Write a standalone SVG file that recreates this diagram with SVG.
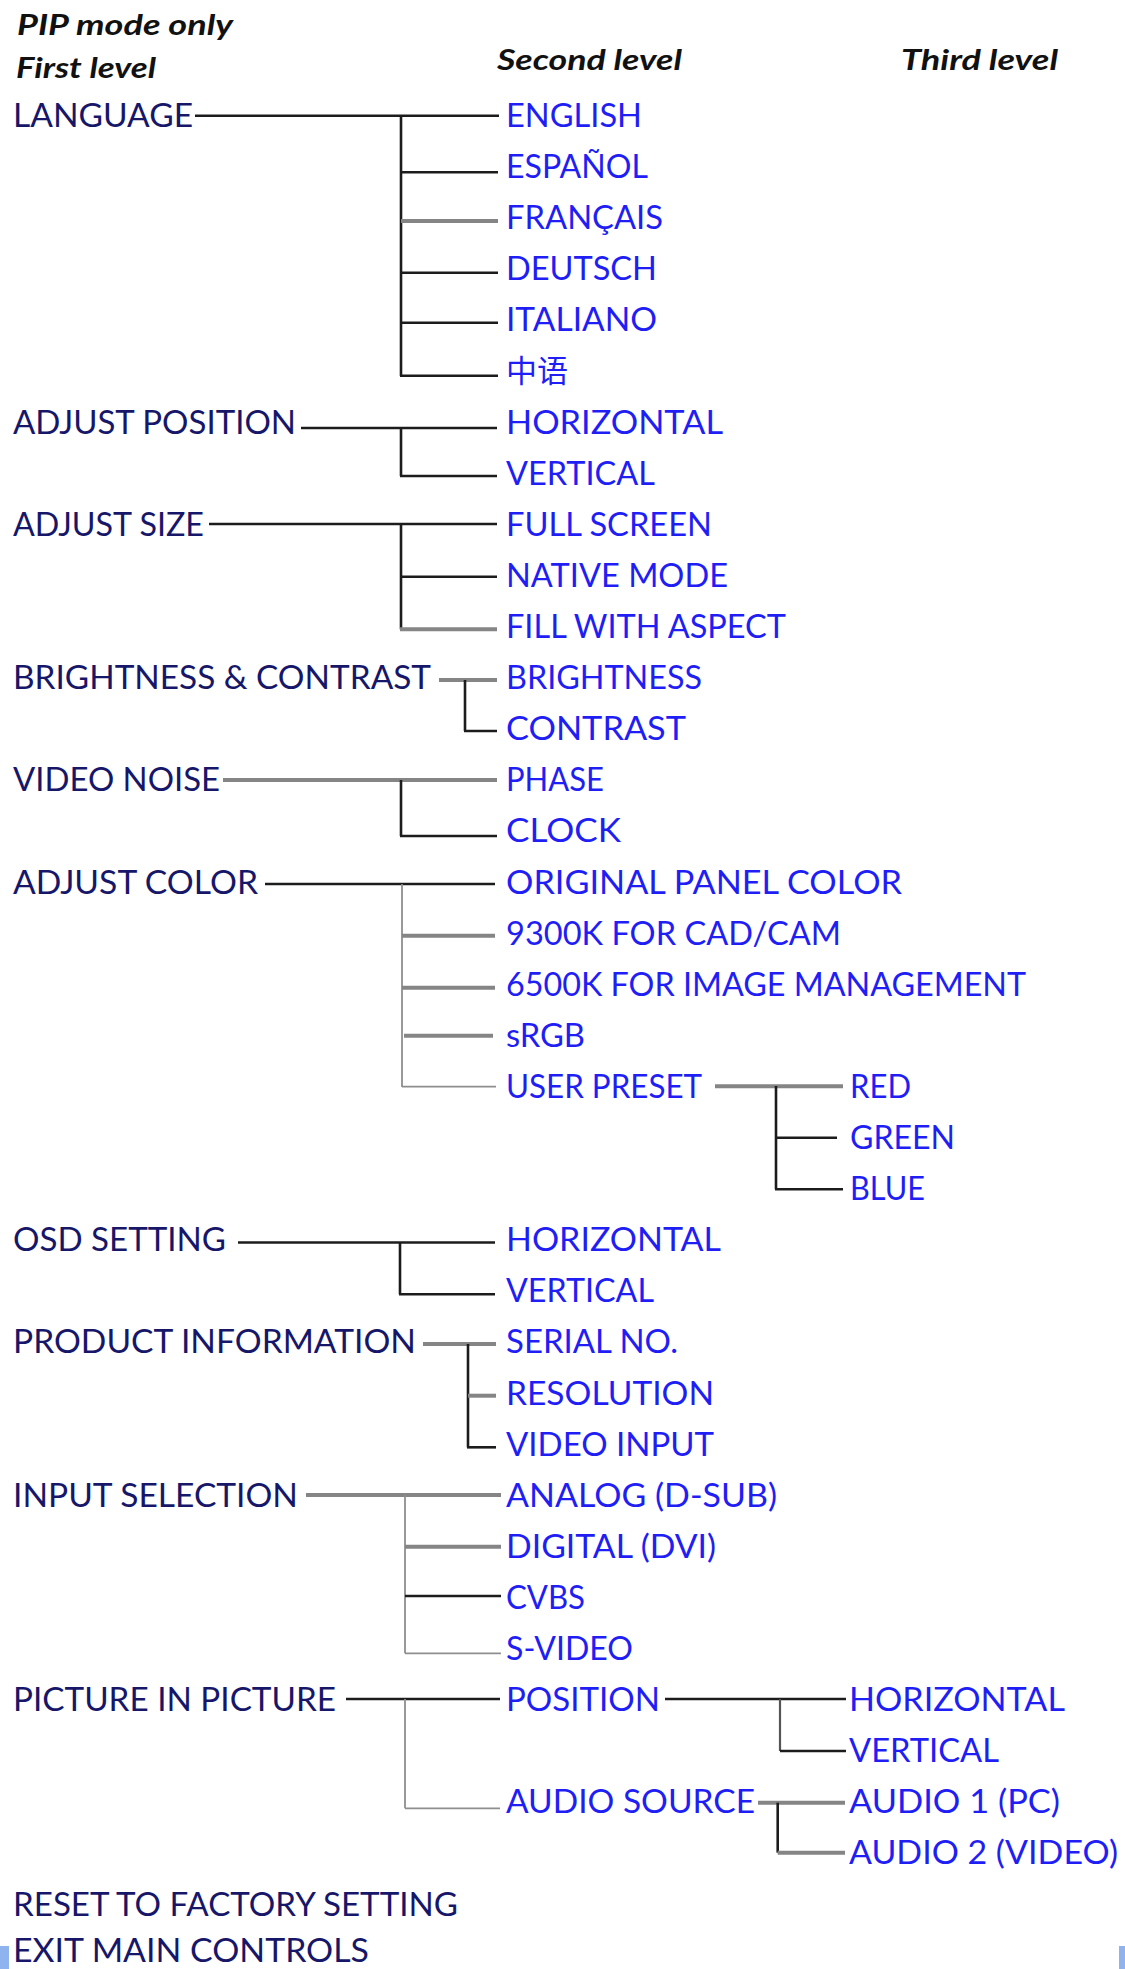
<svg xmlns="http://www.w3.org/2000/svg" width="1125" height="1969" viewBox="0 0 1125 1969">
<style>
text{font-family:"Lato","Open Sans","DejaVu Sans",sans-serif;font-size:33px;}
.h{font-style:italic;font-weight:bold;fill:#111;font-size:29px;}
.f{fill:#17176a;}
.s{fill:#1e1ef5;}
.cjk{font-family:"Noto Sans CJK SC","Noto Sans CJK JP",sans-serif;font-size:31px;}
.k{stroke:#1c1c1c;stroke-width:2.6;fill:none;}
.g{stroke:#858585;stroke-width:4;fill:none;}
.t{stroke:#8e8e8e;stroke-width:1.8;fill:none;}
.d{stroke:#555;stroke-width:2.2;fill:none;}
.bar{fill:#8fb3ee;}
</style>
<rect width="1125" height="1969" fill="#fff"/>
<g id="headers">
<text class="h" x="17" y="35" textLength="216" lengthAdjust="spacingAndGlyphs">PIP mode only</text>
<text class="h" x="16" y="78" textLength="140" lengthAdjust="spacingAndGlyphs">First level</text>
<text class="h" x="497" y="70" textLength="185" lengthAdjust="spacingAndGlyphs">Second level</text>
<text class="h" x="901" y="70" textLength="157" lengthAdjust="spacingAndGlyphs">Third level</text>
</g>
<g id="connectors">
<line class="k" x1="195" y1="115.7" x2="499" y2="115.7"/>
<line class="k" x1="401" y1="115.7" x2="401" y2="376"/>
<line class="k" x1="401" y1="172.3" x2="498" y2="172.3"/>
<line class="g" x1="401" y1="221" x2="498" y2="221"/>
<line class="k" x1="401" y1="272.7" x2="498" y2="272.7"/>
<line class="k" x1="401" y1="322.7" x2="498" y2="322.7"/>
<line class="k" x1="400" y1="375.7" x2="498" y2="375.7"/>
<line class="k" x1="301" y1="428" x2="497" y2="428"/>
<line class="k" x1="401" y1="428" x2="401" y2="476"/>
<line class="k" x1="400" y1="476" x2="497" y2="476"/>
<line class="k" x1="209" y1="524" x2="497" y2="524"/>
<line class="k" x1="401" y1="524" x2="401" y2="629.3"/>
<line class="k" x1="401" y1="576.7" x2="497" y2="576.7"/>
<line class="g" x1="400" y1="629.3" x2="497" y2="629.3"/>
<line class="g" x1="439" y1="680" x2="497" y2="680"/>
<line class="k" x1="465" y1="680" x2="465" y2="731"/>
<line class="k" x1="464" y1="731" x2="497" y2="731"/>
<line class="g" x1="223" y1="780" x2="497" y2="780"/>
<line class="k" x1="401" y1="780" x2="401" y2="836"/>
<line class="k" x1="400" y1="836" x2="497" y2="836"/>
<line class="k" x1="265" y1="884" x2="495" y2="884"/>
<line class="t" x1="402" y1="884" x2="402" y2="1087"/>
<line class="g" x1="402" y1="935.7" x2="495" y2="935.7"/>
<line class="g" x1="402" y1="987.7" x2="495" y2="987.7"/>
<line class="g" x1="404" y1="1035.7" x2="493" y2="1035.7"/>
<line class="t" x1="402" y1="1086.7" x2="496" y2="1086.7"/>
<line class="g" x1="715" y1="1086.3" x2="843" y2="1086.3"/>
<line class="k" x1="776" y1="1086" x2="776" y2="1189.3"/>
<line class="k" x1="776" y1="1137.7" x2="837" y2="1137.7"/>
<line class="k" x1="775" y1="1189.3" x2="843" y2="1189.3"/>
<line class="k" x1="238" y1="1242.5" x2="495" y2="1242.5"/>
<line class="k" x1="400" y1="1242.5" x2="400" y2="1294.3"/>
<line class="k" x1="399" y1="1294.3" x2="495" y2="1294.3"/>
<line class="g" x1="423" y1="1344" x2="496" y2="1344"/>
<line class="k" x1="468" y1="1344" x2="468" y2="1447.3"/>
<line class="g" x1="468" y1="1395.7" x2="496" y2="1395.7"/>
<line class="k" x1="467" y1="1447.3" x2="496" y2="1447.3"/>
<line class="g" x1="306" y1="1495" x2="501" y2="1495"/>
<line class="t" x1="405" y1="1495" x2="405" y2="1653.3"/>
<line class="g" x1="405" y1="1546.7" x2="501" y2="1546.7"/>
<line class="k" x1="405" y1="1596" x2="501" y2="1596"/>
<line class="t" x1="405" y1="1653.3" x2="501" y2="1653.3"/>
<line class="k" x1="346" y1="1699" x2="500" y2="1699"/>
<line class="t" x1="405" y1="1699" x2="405" y2="1808.3"/>
<line class="t" x1="405" y1="1808.3" x2="500" y2="1808.3"/>
<line class="k" x1="665" y1="1699" x2="846" y2="1699"/>
<line class="d" x1="780" y1="1699" x2="780" y2="1751"/>
<line class="k" x1="780" y1="1751" x2="846" y2="1751"/>
<line class="g" x1="758" y1="1802.7" x2="845" y2="1802.7"/>
<line class="k" x1="777.7" y1="1802.7" x2="777.7" y2="1852.7"/>
<line class="g" x1="777.7" y1="1852.7" x2="845" y2="1852.7"/>
</g>
<g id="n-language"><text class="f" x="13" y="127" textLength="180" lengthAdjust="spacingAndGlyphs">LANGUAGE</text></g>
<g id="n-english"><text class="s" x="506" y="127" textLength="136" lengthAdjust="spacingAndGlyphs">ENGLISH</text></g>
<g id="n-espanol"><text class="s" x="506" y="178.1" textLength="142" lengthAdjust="spacingAndGlyphs">ESPAÑOL</text></g>
<g id="n-francais"><text class="s" x="506" y="229.2" textLength="157" lengthAdjust="spacingAndGlyphs">FRANÇAIS</text></g>
<g id="n-deutsch"><text class="s" x="506" y="280.3" textLength="151" lengthAdjust="spacingAndGlyphs">DEUTSCH</text></g>
<g id="n-italiano"><text class="s" x="506" y="331.4" textLength="151" lengthAdjust="spacingAndGlyphs">ITALIANO</text></g>
<g id="n-chinese"><text class="s cjk" x="506" y="381.5">中语</text></g>
<g id="n-adjust-position"><text class="f" x="13" y="433.6" textLength="283" lengthAdjust="spacingAndGlyphs">ADJUST POSITION</text></g>
<g id="n-ap-horizontal"><text class="s" x="506" y="433.6" textLength="217" lengthAdjust="spacingAndGlyphs">HORIZONTAL</text></g>
<g id="n-ap-vertical"><text class="s" x="506" y="484.7" textLength="149" lengthAdjust="spacingAndGlyphs">VERTICAL</text></g>
<g id="n-adjust-size"><text class="f" x="13" y="535.8" textLength="191" lengthAdjust="spacingAndGlyphs">ADJUST SIZE</text></g>
<g id="n-full-screen"><text class="s" x="506" y="535.8" textLength="206" lengthAdjust="spacingAndGlyphs">FULL SCREEN</text></g>
<g id="n-native-mode"><text class="s" x="506" y="586.9" textLength="222" lengthAdjust="spacingAndGlyphs">NATIVE MODE</text></g>
<g id="n-fill-aspect"><text class="s" x="506" y="638" textLength="280" lengthAdjust="spacingAndGlyphs">FILL WITH ASPECT</text></g>
<g id="n-brightness-contrast"><text class="f" x="13" y="689.1" textLength="418" lengthAdjust="spacingAndGlyphs">BRIGHTNESS &amp; CONTRAST</text></g>
<g id="n-brightness"><text class="s" x="506" y="689.1" textLength="196" lengthAdjust="spacingAndGlyphs">BRIGHTNESS</text></g>
<g id="n-contrast"><text class="s" x="506" y="740.2" textLength="180" lengthAdjust="spacingAndGlyphs">CONTRAST</text></g>
<g id="n-video-noise"><text class="f" x="13" y="791.3" textLength="207" lengthAdjust="spacingAndGlyphs">VIDEO NOISE</text></g>
<g id="n-phase"><text class="s" x="506" y="791.3" textLength="98" lengthAdjust="spacingAndGlyphs">PHASE</text></g>
<g id="n-clock"><text class="s" x="506" y="842.4" textLength="115" lengthAdjust="spacingAndGlyphs">CLOCK</text></g>
<g id="n-adjust-color"><text class="f" x="13" y="893.5" textLength="245" lengthAdjust="spacingAndGlyphs">ADJUST COLOR</text></g>
<g id="n-original-panel"><text class="s" x="506" y="893.5" textLength="396" lengthAdjust="spacingAndGlyphs">ORIGINAL PANEL COLOR</text></g>
<g id="n-9300k"><text class="s" x="506" y="944.6" textLength="335" lengthAdjust="spacingAndGlyphs">9300K FOR CAD/CAM</text></g>
<g id="n-6500k"><text class="s" x="506" y="995.7" textLength="520" lengthAdjust="spacingAndGlyphs">6500K FOR IMAGE MANAGEMENT</text></g>
<g id="n-srgb"><text class="s" x="506" y="1046.8" textLength="79" lengthAdjust="spacingAndGlyphs">sRGB</text></g>
<g id="n-user-preset"><text class="s" x="506" y="1097.9" textLength="196" lengthAdjust="spacingAndGlyphs">USER PRESET</text></g>
<g id="n-red"><text class="s" x="850" y="1097.9" textLength="61" lengthAdjust="spacingAndGlyphs">RED</text></g>
<g id="n-green"><text class="s" x="850" y="1149" textLength="105" lengthAdjust="spacingAndGlyphs">GREEN</text></g>
<g id="n-blue"><text class="s" x="850" y="1200.1" textLength="75" lengthAdjust="spacingAndGlyphs">BLUE</text></g>
<g id="n-osd-setting"><text class="f" x="13" y="1251.2" textLength="213" lengthAdjust="spacingAndGlyphs">OSD SETTING</text></g>
<g id="n-osd-horizontal"><text class="s" x="506" y="1251.2" textLength="215" lengthAdjust="spacingAndGlyphs">HORIZONTAL</text></g>
<g id="n-osd-vertical"><text class="s" x="506" y="1302.3" textLength="148" lengthAdjust="spacingAndGlyphs">VERTICAL</text></g>
<g id="n-product-info"><text class="f" x="13" y="1353.4" textLength="403" lengthAdjust="spacingAndGlyphs">PRODUCT INFORMATION</text></g>
<g id="n-serial"><text class="s" x="506" y="1353.4" textLength="172" lengthAdjust="spacingAndGlyphs">SERIAL NO.</text></g>
<g id="n-resolution"><text class="s" x="506" y="1404.5" textLength="208" lengthAdjust="spacingAndGlyphs">RESOLUTION</text></g>
<g id="n-video-input"><text class="s" x="506" y="1455.6" textLength="208" lengthAdjust="spacingAndGlyphs">VIDEO INPUT</text></g>
<g id="n-input-selection"><text class="f" x="13" y="1506.7" textLength="285" lengthAdjust="spacingAndGlyphs">INPUT SELECTION</text></g>
<g id="n-analog"><text class="s" x="506" y="1506.7" textLength="271" lengthAdjust="spacingAndGlyphs">ANALOG (D-SUB)</text></g>
<g id="n-digital"><text class="s" x="506" y="1557.8" textLength="210" lengthAdjust="spacingAndGlyphs">DIGITAL (DVI)</text></g>
<g id="n-cvbs"><text class="s" x="506" y="1608.9" textLength="79" lengthAdjust="spacingAndGlyphs">CVBS</text></g>
<g id="n-svideo"><text class="s" x="506" y="1660" textLength="127" lengthAdjust="spacingAndGlyphs">S-VIDEO</text></g>
<g id="n-pip"><text class="f" x="13" y="1711.1" textLength="323" lengthAdjust="spacingAndGlyphs">PICTURE IN PICTURE</text></g>
<g id="n-position"><text class="s" x="506" y="1711.1" textLength="154" lengthAdjust="spacingAndGlyphs">POSITION</text></g>
<g id="n-pip-horizontal"><text class="s" x="849" y="1711.1" textLength="216" lengthAdjust="spacingAndGlyphs">HORIZONTAL</text></g>
<g id="n-pip-vertical"><text class="s" x="849" y="1762.2" textLength="150" lengthAdjust="spacingAndGlyphs">VERTICAL</text></g>
<g id="n-audio-source"><text class="s" x="506" y="1813.3" textLength="249" lengthAdjust="spacingAndGlyphs">AUDIO SOURCE</text></g>
<g id="n-audio1"><text class="s" x="849" y="1813.3" textLength="211" lengthAdjust="spacingAndGlyphs">AUDIO 1 (PC)</text></g>
<g id="n-audio2"><text class="s" x="849" y="1864.4" textLength="269" lengthAdjust="spacingAndGlyphs">AUDIO 2 (VIDEO)</text></g>
<g id="n-reset"><text class="f" x="13" y="1915.5" textLength="445" lengthAdjust="spacingAndGlyphs">RESET TO FACTORY SETTING</text></g>
<g id="n-exit"><text class="f" x="13" y="1962" textLength="356" lengthAdjust="spacingAndGlyphs">EXIT MAIN CONTROLS</text></g>
<rect class="bar" x="0" y="1946" width="9" height="23"/>
<rect class="bar" x="1119" y="1946" width="6" height="23"/>
</svg>
